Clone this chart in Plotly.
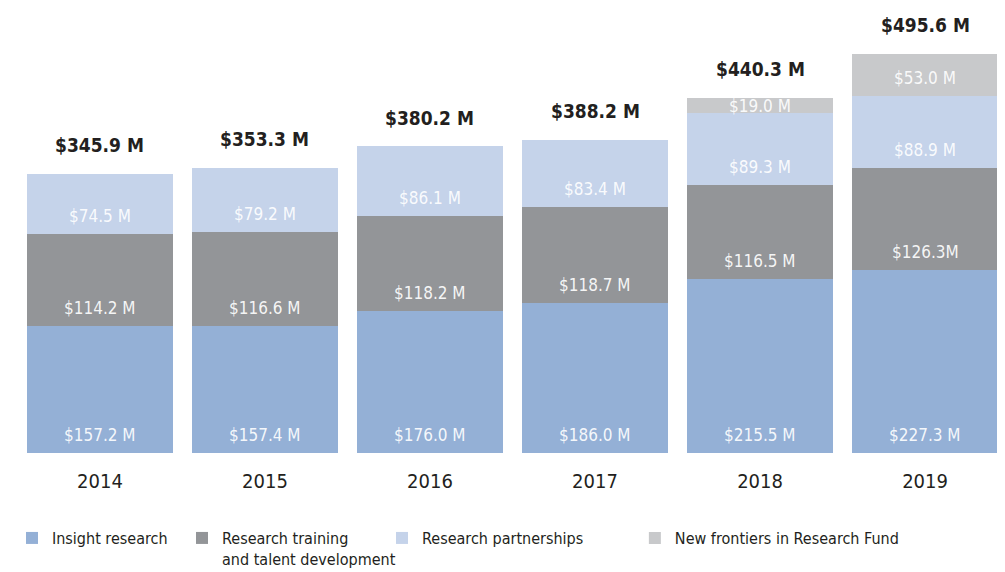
import plotly.graph_objects as go

years = ["2014", "2015", "2016", "2017", "2018", "2019"]
insight = [157.2, 157.4, 176.0, 186.0, 215.5, 227.3]
training = [114.2, 116.6, 118.2, 118.7, 116.5, 126.3]
partnerships = [74.5, 79.2, 86.1, 83.4, 89.3, 88.9]
frontiers = [0, 0, 0, 0, 19.0, 53.0]
totals = [345.9, 353.3, 380.2, 388.2, 440.3, 495.6]

insight_lbl = ["$157.2 M", "$157.4 M", "$176.0 M", "$186.0 M", "$215.5 M", "$227.3 M"]
training_lbl = ["$114.2 M", "$116.6 M", "$118.2 M", "$118.7 M", "$116.5 M", "$126.3M"]
partner_lbl = ["$74.5 M", "$79.2 M", "$86.1 M", "$83.4 M", "$89.3 M", "$88.9 M"]
frontier_lbl = ["", "", "", "", "$19.0 M", "$53.0 M"]
total_lbl = ["$345.9 M", "$353.3 M", "$380.2 M", "$388.2 M", "$440.3 M", "$495.6 M"]

series = [
    ("Insight research", insight, insight_lbl, "#94b0d6", "legend"),
    ("Research training<br>and talent development", training, training_lbl, "#939598", "legend2"),
    ("Research partnerships", partnerships, partner_lbl, "#c5d3ea", "legend3"),
    ("New frontiers in Research Fund", frontiers, frontier_lbl, "#c8c9cb", "legend4"),
]

FONT = "DejaVu Sans Condensed, Liberation Sans Narrow, sans-serif"
Y_MAX = 549.6
PLOT_H = 443
PX_PER_UNIT = PLOT_H / Y_MAX

fig = go.Figure()
annotations = []
base = [0.0] * len(years)
for name, vals, lbls, color, lg in series:
    fig.add_trace(go.Bar(
        x=years, y=vals, name=name, marker=dict(color=color, line=dict(width=0)),
        legend=lg, hoverinfo="name+y",
    ))
    for i, (v, t) in enumerate(zip(vals, lbls)):
        if v and t:
            seg_px = v * PX_PER_UNIT
            annotations.append(dict(
                x=i, y=base[i], xref="x", yref="y", text=t, showarrow=False,
                yanchor="middle", yshift=min(18, seg_px / 2),
                font=dict(family=FONT, size=17, color="rgba(255,255,255,0.92)"),
            ))
    base = [b + v for b, v in zip(base, vals)]

for i, t in enumerate(total_lbl):
    annotations.append(dict(
        x=i, y=totals[i], xref="x", yref="y", text="<b>" + t + "</b>", showarrow=False,
        yanchor="middle", yshift=29,
        font=dict(family=FONT, size=19, color="#231f20"),
    ))

legend_common = dict(
    orientation="h", xanchor="left", yanchor="top", bgcolor="rgba(0,0,0,0)",
    font=dict(family=FONT, size=16, color="#231f20"), borderwidth=0,
    itemclick=False, itemdoubleclick=False, valign="top",
)

LEG_Y = -0.1536
fig.update_layout(
    width=1005, height=572,
    margin=dict(l=2, r=0, t=2, b=127, autoexpand=False),
    barmode="stack", bargap=0.115,
    plot_bgcolor="white", paper_bgcolor="white",
    xaxis=dict(
        type="category", range=[-0.545, 5.533], showgrid=False, zeroline=False, showline=False,
        ticks="", tickfont=dict(family=FONT, size=20, color="#231f20"), ticklabelstandoff=14,
    ),
    yaxis=dict(range=[0, Y_MAX], visible=False),
    annotations=annotations,
    showlegend=True,
    legend=dict(x=0.002, y=LEG_Y, **legend_common),
    legend2=dict(x=0.1715, y=LEG_Y, **legend_common),
    legend3=dict(x=0.3709, y=LEG_Y, **legend_common),
    legend4=dict(x=0.623, y=LEG_Y, **legend_common),
)

fig.write_html("out.html")
